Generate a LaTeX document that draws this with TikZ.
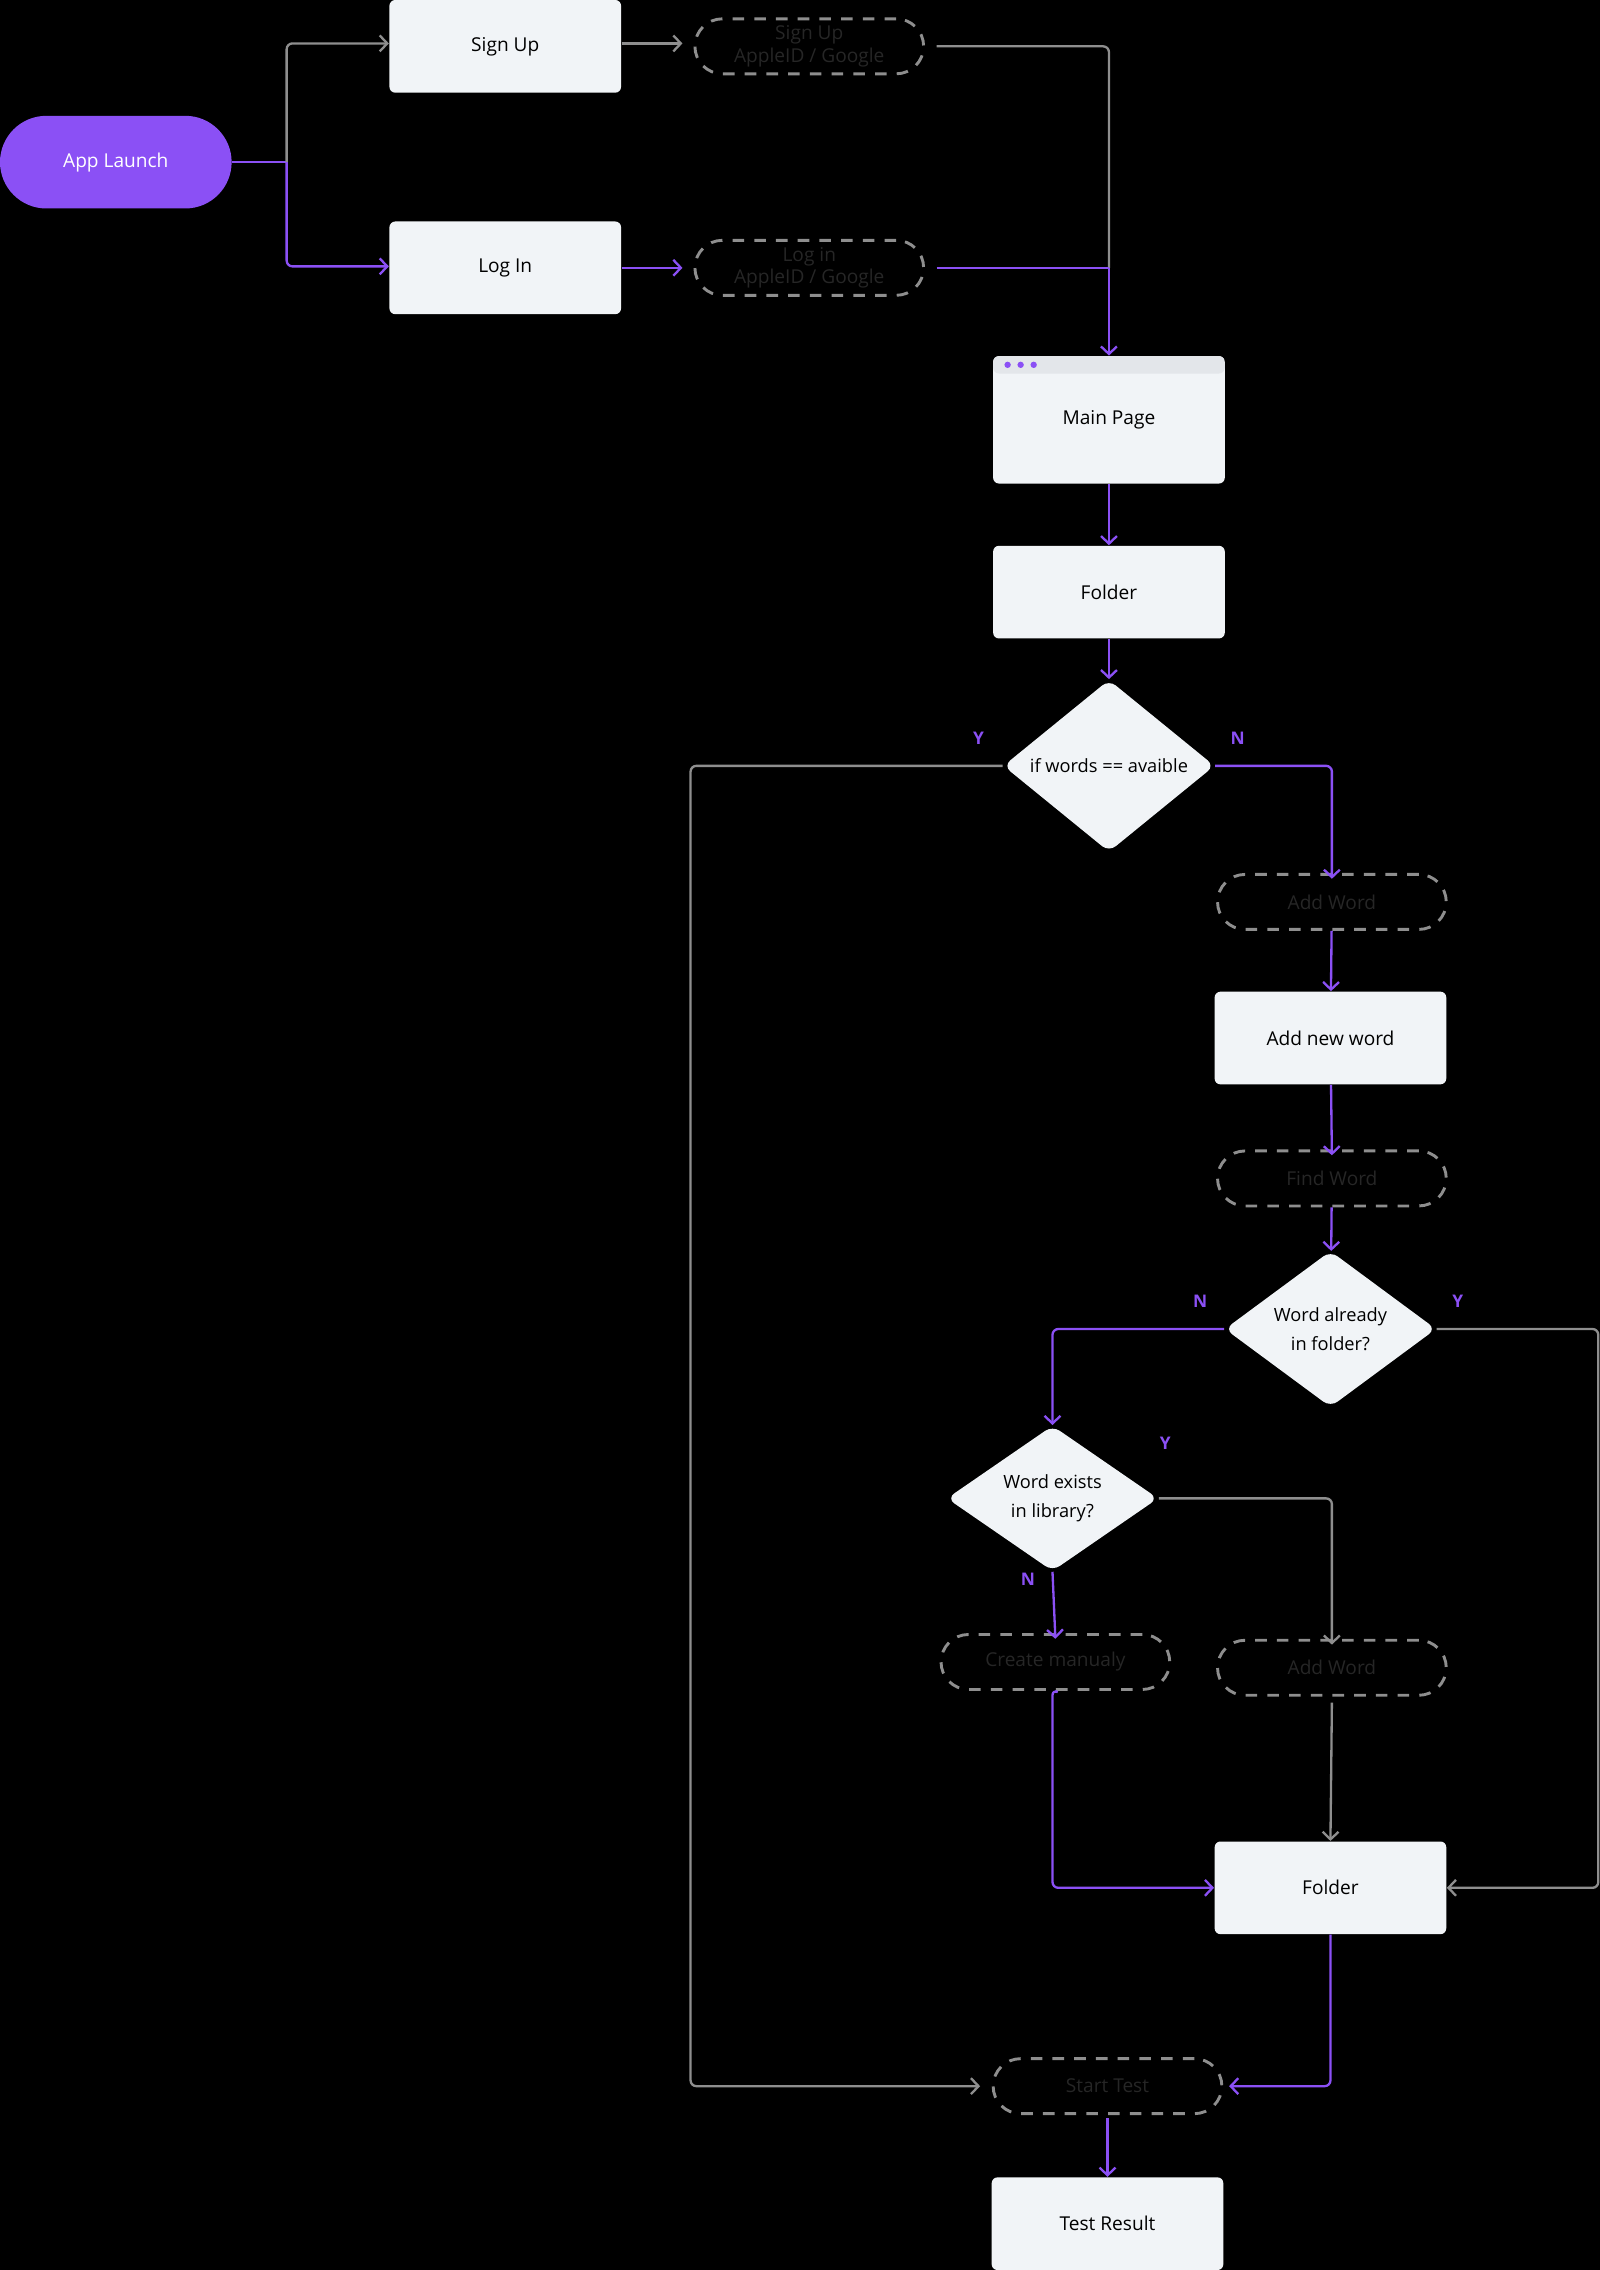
\documentclass[tikz,border=0pt]{standalone}
\usepackage{fontspec}
\setmainfont{Open Sans}
\usetikzlibrary{arrows.meta,shapes.geometric}
\definecolor{pur}{HTML}{8B50F5}
\definecolor{gry}{HTML}{8E8E8E}
\definecolor{boxf}{HTML}{F1F4F7}
\definecolor{hdr}{HTML}{E3E6EA}
\definecolor{dtxt}{HTML}{262626}
\begin{document}
\begin{tikzpicture}[x=0.5pt,y=-0.5pt,
  font=\fontsize{6.6}{8.5}\selectfont,
  box/.style={rectangle,rounded corners=2pt,fill=boxf,minimum width=80pt,minimum height=32pt,inner sep=0pt,text=black},
  dbox/.style={rectangle,rounded corners=9.5pt,draw=gry,line width=1pt,dash pattern=on 4pt off 3.5pt,minimum width=79pt,minimum height=19pt,inner sep=0pt,text=dtxt,align=center,font=\fontsize{6.6}{7.8}\selectfont},
  dia/.style={diamond,fill=boxf,rounded corners=3pt,minimum width=73pt,minimum height=45pt,inner sep=0pt,align=center,text=black,font=\fontsize{6.3}{10}\selectfont},
  lbl/.style={text=pur,font=\fontsize{6}{7}\selectfont\bfseries},
  con/.style={line width=0.8pt,rounded corners=2pt},
  pc/.style={con,draw=pur},
  gc/.style={con,draw=gry},
  arr/.style={-{Straight Barb[length=2.6pt,width=5.5pt,line width=0.8pt]}}
]
\fill[black] (0,0) rectangle (1105,1568);
\useasboundingbox (0,0) rectangle (1105,1568);

\node[rectangle,rounded corners=16pt,fill=pur,minimum width=80pt,minimum height=32pt,text=white] (app) at (80,112) {App Launch};
\node[box] (signup) at (349,32) {Sign Up};
\node[box] (login) at (349,185) {Log In};
\node[dbox] (dsign) at (559,32) {Sign Up\\AppleID / Google};
\node[dbox] (dlog) at (559,185) {Log in\\AppleID / Google};
\node[box,minimum height=44pt,path picture={
  \fill[hdr] (path picture bounding box.north west) rectangle ([yshift=-6pt]path picture bounding box.north east);
  \foreach \i in {0,1,2}{\fill[pur] ([xshift=5pt+\i*4.5pt,yshift=-3pt]path picture bounding box.north west) circle (1.1pt);}
}] (main) at (766,290) {\raisebox{-3pt}{Main Page}};
\node[box] (folder1) at (766,409) {Folder};
\node[dia] (d1) at (766,529) {if words == avaible};
\node[dbox] (addw1) at (920,623) {Add Word};
\node[box] (addnew) at (919,717) {Add new word};
\node[dbox] (findw) at (920,814) {Find Word};
\node[dia] (d2) at (919,918) {Word already\\in folder?};
\node[dia] (d3) at (727,1035) {Word exists\\in library?};
\node[dbox] (create) at (729,1148) {Create manualy};
\node[dbox] (addw2) at (920,1152) {Add Word};
\node[box] (folder2) at (919,1304) {Folder};
\node[dbox] (start) at (765,1441) {Start Test};
\node[box] (result) at (765,1536) {Test Result};

\node[lbl] (y1) at (676,510) {Y};
\node[lbl] (n1) at (855,510) {N};
\node[lbl] (n2) at (829,899) {N};
\node[lbl] (y2) at (1007,899) {Y};
\node[lbl] (y3) at (805,997) {Y};
\node[lbl] (n3) at (710,1091) {N};

\coordinate (split) at (198,112);
\coordinate (join) at (766,185);

\draw[pc] (app.east) -- (split);
\draw[gc,arr] (split) |- ([yshift=1pt]signup.west);
\draw[pc,arr] (split) |- ([yshift=0.5pt]login.west);
\draw[gc,arr] ([yshift=1pt]signup.east) -- ++(42,0);
\draw[pc,arr] (login.east) -- ++(42,0);
\draw[gc] ([xshift=4pt]dsign.east) -| (join);
\draw[pc] ([xshift=4pt]dlog.east) -- (join);
\draw[pc,arr] (join) -- (main.north);
\draw[pc,arr] (main) -- (folder1);
\draw[pc,arr] (folder1) -- (d1);
\draw[gc,arr] (d1.west) -- (477,529) |- ([xshift=-4pt]start.west);
\draw[pc,arr] (d1.east) -| ([yshift=-2pt]addw1.north);
\draw[pc,arr] (addw1) -- (addnew);
\draw[pc,arr] (addnew) -- ([yshift=-2pt]findw.north);
\draw[pc,arr] (findw) -- (d2);
\draw[pc,arr] (d2.west) -| (d3.north);
\draw[gc,arr] (d2.east) -- (1104,918) |- (folder2.east);
\draw[gc,arr] (d3.east) -| ([yshift=-2pt]addw2.north);
\draw[pc,arr] (d3.south) -- ([yshift=-2pt]create.north);
\draw[pc,arr] (create.south) -- (727,1167) |- (folder2.west);
\draw[gc,arr] ([yshift=-2pt]addw2.south) -- (folder2.north);
\draw[pc,arr] (folder2.south) |- ([xshift=2pt]start.east);
\draw[pc,arr] ([yshift=-1pt]start.south) -- (result.north);
\end{tikzpicture}
\end{document}
